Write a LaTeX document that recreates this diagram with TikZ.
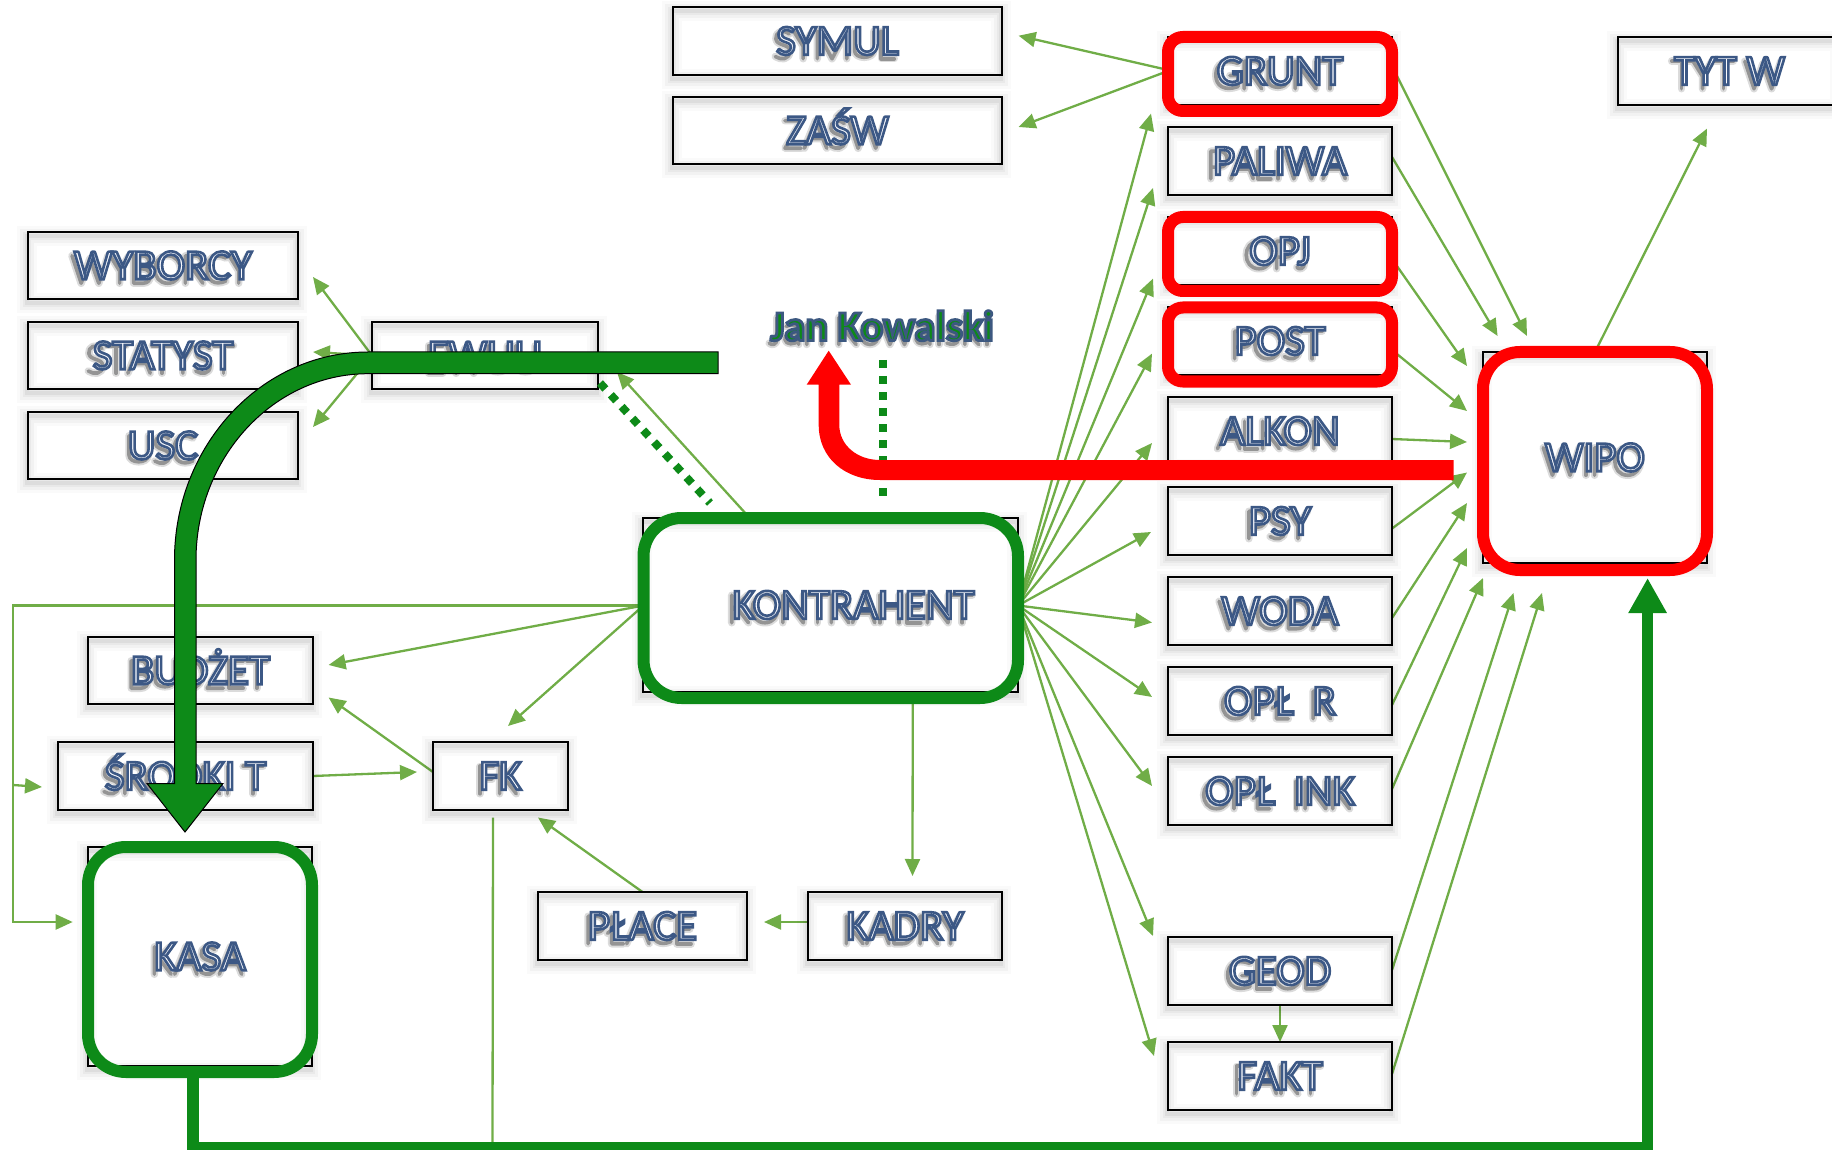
\documentclass[tikz,border=0pt]{standalone}
\usepackage{fontspec}
\setmainfont{Carlito}
\usetikzlibrary{arrows.meta}
\definecolor{cbl}{HTML}{70AD47}
\definecolor{cgr}{HTML}{0D8A18}
\definecolor{crd}{HTML}{FF0000}
\pgfdeclarelayer{under}
\pgfsetlayers{under,main}
% outlined text: fill and stroke through text render mode 2
\newcommand\lbl[1]{\special{pdf:code 2 Tr 2.6 w 0.235 0.345 0.52 RG 0.98 0.985 1 rg}#1\special{pdf:code 0 Tr 0 g 0 G}}
\newcommand\gntxt[1]{\special{pdf:code 2 Tr 2.8 w 0.235 0.345 0.50 RG 0.05 0.54 0.09 rg}#1\special{pdf:code 0 Tr 0 g 0 G}}
\newcommand\bx[7][]{%
  \pgfmathsetmacro\wdd{#5-#3}\pgfmathsetmacro\htt{#6-#4}%
  \node[tbox,#1,minimum width=\wdd pt,minimum height=\htt pt] (#2) at ({(#3+#5)/2},{(#4+#6)/2}) {#7};}
\newcommand\frm[7]{% style name x1 y1 x2 y2 radius
  \pgfmathsetmacro\wdd{#5-#3}\pgfmathsetmacro\htt{#6-#4}%
  \node[#1,rounded corners=#7pt,minimum width=\wdd pt,minimum height=\htt pt] (#2) at ({(#3+#5)/2},{(#4+#6)/2}) {};}
% soft letter shadows, drawn as strokes under the real text
\newcommand\defglyph[3]{\expandafter\def\csname gch#1\endcsname{#2}\expandafter\def\csname gpt#1\endcsname{#3}}
\defglyph{W}{W}{(.03,0)--(.27,1)--(.5,.1)--(.73,1)--(.97,0)}
\defglyph{Y}{Y}{(.05,0)--(.5,.55)--(.95,0) (.5,.55)--(.5,1)}
\defglyph{M}{M}{(.1,1)--(.1,0)--(.5,1)--(.9,0)--(.9,1)}
\defglyph{U}{U}{(.15,0)--(.15,.7) .. controls (.15,1.03) and (.85,1.03) .. (.85,.7)--(.85,0)}
\defglyph{L}{L}{(.18,0)--(.18,1)--(.9,1)}
\defglyph{LL}{Ł}{(.25,0)--(.25,1)--(.9,1) (.03,.62)--(.48,.38)}
\defglyph{Z}{Z}{(.1,0)--(.9,0)--(.1,1)--(.9,1)}
\defglyph{ZZ}{Ż}{(.1,0)--(.9,0)--(.1,1)--(.9,1) (.5,-.24)--(.5,-.14)}
\defglyph{A}{A}{(.05,1)--(.5,0)--(.95,1) (.2,.65)--(.8,.65)}
\defglyph{S}{S}{(.82,.1) .. controls (.5,-.1) and (.1,.05) .. (.15,.28) .. controls (.2,.55) and (.85,.45) .. (.85,.72) .. controls (.85,1.05) and (.4,1.05) .. (.12,.92)}
\defglyph{SS}{Ś}{(.82,.1) .. controls (.5,-.1) and (.1,.05) .. (.15,.28) .. controls (.2,.55) and (.85,.45) .. (.85,.72) .. controls (.85,1.05) and (.4,1.05) .. (.12,.92) (.42,-.13)--(.62,-.28)}
\defglyph{B}{B}{(.15,1)--(.15,0)--(.55,0) .. controls (.9,0) and (.9,.48) .. (.55,.48)--(.15,.48) (.55,.48) .. controls (.98,.48) and (.98,1) .. (.55,1)--(.15,1)}
\defglyph{O}{O}{(.5,0) .. controls (-.1,0) and (-.1,1) .. (.5,1) .. controls (1.1,1) and (1.1,0) .. (.5,0)}
\defglyph{C}{C}{(.9,.08) .. controls (.4,-.1) and (.08,.1) .. (.08,.5) .. controls (.08,.9) and (.4,1.1) .. (.9,.92)}
\defglyph{G}{G}{(.9,.08) .. controls (.4,-.1) and (.08,.1) .. (.08,.5) .. controls (.08,.9) and (.4,1.1) .. (.9,.92)--(.9,.52)--(.6,.52)}
\defglyph{D}{D}{(.14,0)--(.14,1)--(.45,1) .. controls (1.05,1) and (1.05,0) .. (.45,0)--(.14,0)}
\defglyph{R}{R}{(.15,1)--(.15,0)--(.55,0) .. controls (.95,0) and (.95,.52) .. (.55,.52)--(.15,.52) (.5,.52)--(.9,1)}
\defglyph{P}{P}{(.15,1)--(.15,0)--(.55,0) .. controls (1,0) and (1,.58) .. (.55,.58)--(.15,.58)}
\defglyph{T}{T}{(.03,0)--(.97,0) (.5,0)--(.5,1)}
\defglyph{K}{K}{(.15,0)--(.15,1) (.85,0)--(.15,.55) (.35,.42)--(.9,1)}
\defglyph{E}{E}{(.85,0)--(.18,0)--(.18,1)--(.85,1) (.18,.48)--(.78,.48)}
\defglyph{F}{F}{(.85,0)--(.18,0)--(.18,1) (.18,.48)--(.78,.48)}
\defglyph{N}{N}{(.13,1)--(.13,0)--(.87,1)--(.87,0)}
\defglyph{H}{H}{(.14,0)--(.14,1) (.86,0)--(.86,1) (.14,.48)--(.86,.48)}
\defglyph{I}{I}{(.5,0)--(.5,1)}
\defglyph{J}{J}{(.65,0)--(.65,.8) .. controls (.65,1) and (.3,1.05) .. (.1,.95)}
\defglyph{a}{a}{(.2,.33) .. controls (.5,.22) and (.8,.25) .. (.8,.5)--(.8,1) (.8,.6) .. controls (.3,.55) and (.12,.65) .. (.15,.82) .. controls (.2,1.02) and (.6,1.02) .. (.8,.85)}
\defglyph{n}{n}{(.17,.27)--(.17,1) (.17,.45) .. controls (.4,.2) and (.83,.2) .. (.83,.5)--(.83,1)}
\defglyph{o}{o}{(.5,.27) .. controls (0,.27) and (0,1) .. (.5,1) .. controls (1,1) and (1,.27) .. (.5,.27)}
\defglyph{w}{w}{(.02,.27)--(.27,1)--(.5,.35)--(.73,1)--(.98,.27)}
\defglyph{l}{l}{(.5,-.05)--(.5,1)}
\defglyph{s}{s}{(.8,.33) .. controls (.5,.22) and (.2,.28) .. (.2,.45) .. controls (.2,.68) and (.82,.6) .. (.82,.8) .. controls (.82,1) and (.4,1.03) .. (.15,.95)}
\defglyph{k}{k}{(.17,-.05)--(.17,1) (.8,.27)--(.17,.68) (.35,.58)--(.85,1)}
\defglyph{i}{i}{(.5,.27)--(.5,1) (.5,0)--(.5,.07)}
\defglyph{sp}{\ }{(0,0)}
\newdimen\shX \newdimen\shW
\newcommand\lblfont{\fontsize{43}{43}\selectfont}
\newcommand\janfont{\bfseries\fontsize{42.5}{42.5}\selectfont}
\font\lblprim="Carlito" at 43pt\relax
\font\janprim="Carlito/B" at 42.5pt\relax
\newcommand\gwid[2]{\setbox0\hbox{#2\csname gch#1\endcsname}\global\shW=\wd0\relax}
% font, node, dx, cap height, glyph list
\newcommand\shword[5]{%
  \global\shX=0pt
  \foreach \g in {#5}{\gwid{\g}{#1}\global\advance\shX by\shW}%
  \global\shX=-.5\shX \global\advance\shX by #3pt
  \begin{scope}[shift={(#2)}]
  \foreach \g in {#5}{\gwid{\g}{#1}%
    \draw[shlayer,shift={(\the\shX,#4pt/2-4pt)},x=\the\shW,y=-#4pt] \csname gpt\g\endcsname;
    \global\advance\shX by\shW}%
  \end{scope}}
\newcommand\ls[3][-3]{\shword{\lblprim}{#2}{#1}{27.5}{#3}}
\newcommand\allshadows{%
  \ls{symul}{S,Y,M,U,L}\ls{zasw}{Z,A,SS,W}\ls{wyborcy}{W,Y,B,O,R,C,Y}\ls{statyst}{S,T,A,T,Y,S,T}
  \ls{usc}{U,S,C}\ls{ewuu}{E,W,U,U}\ls{grunt}{G,R,U,N,T}\ls{paliwa}{P,A,L,I,W,A}\ls{opj}{O,P,J}
  \ls{post}{P,O,S,T}\ls{alkon}{A,L,K,O,N}\ls{psy}{P,S,Y}\ls{woda}{W,O,D,A}\ls{oplr}{O,P,LL,sp,sp,R}
  \ls{oplink}{O,P,LL,sp,sp,I,N,K}\ls{geod}{G,E,O,D}\ls{fakt}{F,A,K,T}\ls{tytw}{T,Y,T,sp,W}\ls{wipo}{W,I,P,O}
  \ls[20]{kontr}{K,O,N,T,R,A,H,E,N,T}\ls{budzet}{B,U,D,ZZ,E,T}\ls{srodki}{SS,R,O,D,K,I,sp,T}\ls{fk}{F,K}
  \ls{place}{P,LL,A,C,E}\ls{kadry}{K,A,D,R,Y}\ls{kasa}{K,A,S,A}
  \shword{\janprim}{jan}{-2}{27}{J,a,n,sp,K,o,w,a,l,s,k,i}}
\tikzset{
  softshadow/.style={
    preaction={draw=black,opacity=.02,line width=20pt,transform canvas={xshift=-1pt,yshift=-4pt}},
    preaction={draw=black,opacity=.03,line width=14pt,transform canvas={xshift=-1pt,yshift=-4pt}},
    preaction={draw=black,opacity=.04,line width=8pt,transform canvas={xshift=-1pt,yshift=-4pt}},
    preaction={draw=black,opacity=.05,line width=4pt,transform canvas={xshift=-1pt,yshift=-4pt}}},
  tbox/.style={rectangle,softshadow,draw=black,line width=1.6pt,inner sep=0pt,outer sep=0pt,
    font=\lblfont,text height=27.5pt,text depth=0pt},
  redframe/.style={rectangle,draw=crd,line width=12pt,inner sep=0pt,outer sep=0pt},
  greenframe/.style={rectangle,draw=cgr,line width=12pt,inner sep=0pt,outer sep=0pt},
  conn/.style={draw=cbl,line width=2.3pt,-{Triangle[length=17pt,width=15pt]}},
  plainconn/.style={draw=cbl,line width=2.3pt},
  bigdots/.style={draw=cgr,line width=8pt,dash pattern=on 8pt off 8pt},
  thickgreen/.style={draw=cgr,line width=11.5pt},
  bigarrow/.style={fill=cgr,draw=black,line width=1pt,line join=miter},
  redarrow/.style={fill=crd,draw=none}
}
\begin{document}
\begin{tikzpicture}[x=1pt,y=-1pt]
\useasboundingbox (0,0) rectangle (1832,1150);
% ---- boxes
\bx{symul}{673}{7}{1002}{75}{\lbl{SYMUL}}
\bx{zasw}{673}{97}{1002}{164}{\lbl{ZAŚW}}
\bx{wyborcy}{28}{232}{298}{299}{\lbl{WYBORCY}}
\bx{statyst}{28}{322}{298}{389}{\lbl{STATYST}}
\bx{usc}{28}{412}{298}{479}{\lbl{USC}}
\bx{ewuu}{372}{322}{598}{389}{\lbl{EWUU}}
\bx{grunt}{1168}{37}{1392}{105}{\lbl{GRUNT}}
\bx{paliwa}{1168}{127}{1392}{195}{\lbl{PALIWA}}
\bx{opj}{1168}{217}{1392}{285}{\lbl{OPJ}}
\bx{post}{1168}{307}{1392}{375}{\lbl{POST}}
\bx{alkon}{1168}{397}{1392}{465}{\lbl{ALKON}}
\bx{psy}{1168}{487}{1392}{555}{\lbl{PSY}}
\bx{woda}{1168}{577}{1392}{645}{\lbl{WODA}}
\bx{oplr}{1168}{667}{1392}{735}{\lbl{OPŁ\ \ R}}
\bx{oplink}{1168}{757}{1392}{825}{\lbl{OPŁ\ \ INK}}
\bx{geod}{1168}{937}{1392}{1005}{\lbl{GEOD}}
\bx{fakt}{1168}{1042}{1392}{1110}{\lbl{FAKT}}
\bx{tytw}{1618}{37}{1841}{105}{\lbl{TYT W}}
\bx{wipo}{1483}{352}{1707}{563}{\lbl{WIPO}}
\bx{kontr}{643}{518}{1018}{692}{\hspace*{46pt}\lbl{KONTRAHENT}}
\bx{budzet}{88}{637}{313}{704}{\lbl{BUDŻET}}
\bx{srodki}{58}{742}{313}{810}{\lbl{ŚRODKI T}}
\bx{fk}{433}{742}{568}{810}{\lbl{FK}}
\bx{place}{538}{892}{747}{960}{\lbl{PŁACE}}
\bx{kadry}{808}{892}{1002}{960}{\lbl{KADRY}}
\bx{kasa}{88}{847}{312}{1066}{\lbl{KASA}}
% ---- frames
\frm{greenframe}{kontrF}{643.5}{518}{1018}{698}{38}
\frm{greenframe}{kasaF}{88}{847}{312}{1072}{38}
\frm{redframe}{gruntF}{1168}{37}{1392}{111}{15}
\frm{redframe}{opjF}{1168}{217}{1392}{291}{15}
\frm{redframe}{postF}{1168}{307.5}{1392}{381.5}{15}
\frm{redframe}{wipoF}{1483}{352}{1707}{570}{37}
% ---- free ends of connectors
\coordinate (tSymul) at (1018.6,35.7);
\coordinate (tZasw) at (1018.6,127);
\coordinate (f1) at (1151,113.6);
\coordinate (f2) at (1153,188);
\coordinate (f3) at (1153,278.6);
\coordinate (f4) at (1152,353.6);
\coordinate (f5) at (1152,443);
\coordinate (f6) at (1151,532);
\coordinate (f7) at (1152,622.5);
\coordinate (f8) at (1152,697);
\coordinate (f9) at (1152,786);
\coordinate (f10) at (1153,936);
\coordinate (f11) at (1154,1056);
\coordinate (w1) at (1527,336);
\coordinate (w2) at (1497.6,336);
\coordinate (w3) at (1467,366);
\coordinate (w4) at (1467,411);
\coordinate (w5) at (1467,442);
\coordinate (w6) at (1467,472.5);
\coordinate (w7) at (1467,503);
\coordinate (w8) at (1467,548);
\coordinate (w9) at (1483,578);
\coordinate (w10) at (1513.5,593);
\coordinate (w11) at (1542,593);
\coordinate (tTyt) at (1707,128.6);
\coordinate (tWy) at (313,277);
\coordinate (tSt) at (313,352);
\coordinate (tUs) at (313,427);
\coordinate (tEw) at (617,372);
\coordinate (tBu) at (328.6,665);
\coordinate (tBu2) at (328.6,697.5);
\coordinate (tFk) at (508,726);
\coordinate (tFk2) at (417,772);
\coordinate (tFk3) at (538,817.5);
\coordinate (tPl) at (764,922);
\coordinate (tKa) at (912.5,876);
\coordinate (cA) at (13,605.5);
\coordinate (cB) at (13,922);
\coordinate (cC) at (13,785);
\coordinate (tSr) at (42,787);
\coordinate (tKs) at (72.7,922);
\coordinate (fkEnd) at (492.5,1147);
% ---- thin connectors and letter shadows, under everything else
\coordinate (jan) at (882,327);
\begin{pgfonlayer}{under}
\tikzset{shlayer/.style={draw=black!14,line width=7.5pt,line cap=round,line join=round}}
\allshadows
\tikzset{shlayer/.style={draw=black!42,line width=3.6pt,line cap=round,line join=round}}
\allshadows
\draw[conn] ([yshift=4pt]gruntF.west) -- (tSymul);
\draw[conn] ([yshift=3pt]gruntF.west) -- (tZasw);
\foreach \t in {f1,f2,f3,f4,f5,f6,f7,f8,f9,f10,f11} \draw[conn] ([yshift=2.5pt]kontrF.east) -- (\t);
\draw[conn] ([yshift=5pt]grunt.east) -- (w1);
\draw[conn] ([yshift=4pt]paliwa.east) -- (w2);
\draw[conn] ([yshift=-8pt]opj.east) -- (w3);
\draw[conn] ([yshift=-9pt]post.east) -- (w4);
\draw[conn] ([yshift=-8pt]alkon.east) -- (w5);
\draw[conn] ([yshift=-7.6pt]psy.east) -- (w6);
\draw[conn] ([yshift=-7pt]woda.east) -- (w7);
\draw[conn] ([yshift=-4pt]oplr.east) -- (w8);
\draw[conn] ([yshift=2pt]oplink.east) -- (w9);
\draw[conn] ([yshift=1pt]geod.east) -- (w10);
\draw[conn] ([yshift=2pt]fakt.east) -- (w11);
\draw[conn] (geod.south) -- (fakt.north);
\draw[conn] (wipoF.north) -- (tTyt);
\draw[conn] (ewuu.west) -- (tWy);
\draw[conn] (ewuu.west) -- (tSt);
\draw[conn] (ewuu.west) -- (tUs);
\draw[conn] ([xshift=-81pt]kontrF.north) -- (tEw);
\draw[conn] ([yshift=2.5pt]kontrF.west) -- (tBu);
\draw[conn] ([yshift=2.5pt]kontrF.west) -- (tFk);
\draw[conn] ([yshift=2.5pt]kontrF.west) -- (cA) -- (cB) -- (tKs);
\draw[conn] (cC) -- (tSr);
\draw[conn] ([yshift=4pt]fk.west) -- (tBu2);
\draw[conn] (srodki.east) -- (tFk2);
\draw[conn] (place.north) -- (tFk3);
\draw[conn] ([yshift=4pt]kadry.west) -- (tPl);
\draw[conn] ([xshift=82pt]kontrF.south) -- (tKa);
\draw[plainconn] ([xshift=-7.5pt,yshift=-7.5pt]fk.south) -- (fkEnd);
\end{pgfonlayer}
% ---- dotted lines
\coordinate (dA) at (600,383);
\coordinate (dB) at (710,503);
\coordinate (dC) at (883,360);
\coordinate (dD) at (883,496);
\draw[bigdots] (dA) -- (dB);
\draw[bigdots] (dC) -- (dD);
% ---- thick arrows
\coordinate (kEnd) at (1647.6,578);
\draw[thickgreen,-{Triangle[length=35pt,width=36pt]}] ([xshift=-7pt]kasaF.south) -- ++(0,75.5) -| (kEnd);
\path[bigarrow] (718,352) -- (368,352) .. controls (261,352) and (174.5,446) .. (174.5,560)
  -- (174.5,783.5) -- (147,783.5) -- (185,832) -- (223,783.5) -- (196,783.5) -- (196,560)
  .. controls (196,458) and (273,373.7) .. (368,373.7) -- (718,373.7) -- cycle;
\path[redarrow] (1453.6,460) -- (880,460) .. controls (857,460) and (839.3,445) .. (839.3,425)
  -- (839.3,384.7) -- (851,384.7) -- (828.7,350.7) -- (806.7,384.7) -- (818.7,384.7) -- (818.7,425)
  .. controls (818.7,458) and (845,480) .. (880,480) -- (1453.6,480) -- cycle;
% ---- name
\node[inner sep=0pt,font=\janfont,text height=27pt,text depth=0pt] (janN) at (jan) {\gntxt{Jan Kowalski}};
\end{tikzpicture}
\end{document}
